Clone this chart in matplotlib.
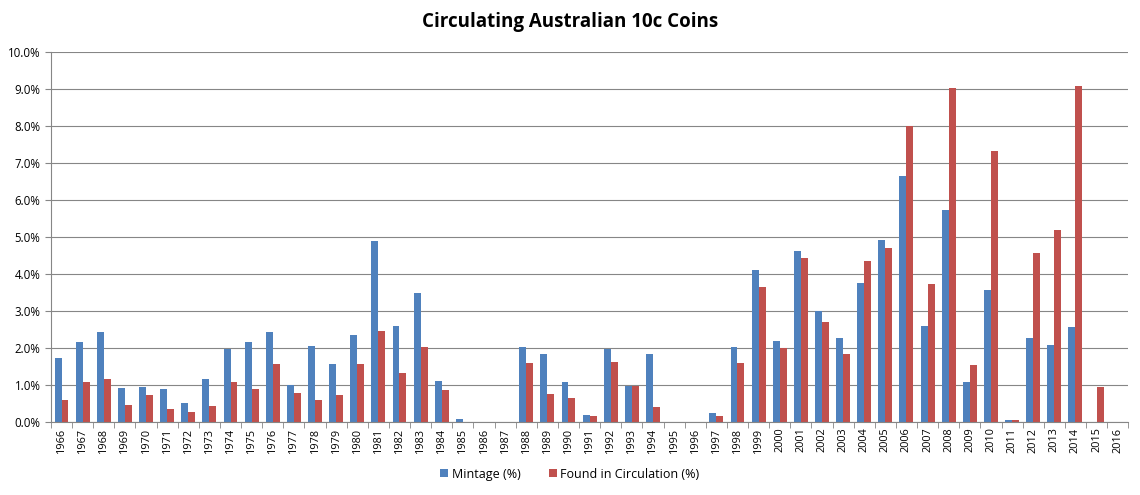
import matplotlib
matplotlib.use("Agg")
import matplotlib.pyplot as plt
import numpy as np
from matplotlib.ticker import FuncFormatter, MultipleLocator

plt.rcParams['font.family'] = ['Open Sans', 'DejaVu Sans']

years = [str(y) for y in range(1966, 2017)]

# values in percent
mintage = [1.73, 2.15, 2.42, 0.93, 0.95, 0.88, 0.52, 1.17, 1.98, 2.15,
           2.42, 1.00, 2.05, 1.57, 2.35, 4.90, 2.60, 3.48, 1.10, 0.08,
           0.0, 0.0, 2.03, 1.85, 1.07, 0.19, 1.97, 0.98, 1.85, 0.0,
           0.0, 0.25, 2.03, 4.10, 2.18, 4.62, 3.00, 2.26, 3.76, 4.93,
           6.64, 2.60, 5.74, 1.08, 3.58, 0.06, 2.28, 2.08, 2.58, 0.0,
           0.0]
found = [0.60, 1.08, 1.15, 0.47, 0.72, 0.35, 0.28, 0.42, 1.08, 0.90,
         1.57, 0.77, 0.60, 0.73, 1.57, 2.47, 1.33, 2.02, 0.87, 0.0,
         0.0, 0.0, 1.60, 0.76, 0.65, 0.17, 1.63, 0.98, 0.40, 0.0,
         0.0, 0.17, 1.60, 3.66, 2.00, 4.42, 2.70, 1.85, 4.36, 4.70,
         8.00, 3.72, 9.02, 1.53, 7.32, 0.06, 4.57, 5.18, 9.08, 0.95,
         0.0]

blue = '#4F81BD'
red = '#C0504D'

fig = plt.figure(figsize=(11.4, 4.95), dpi=100)
ax = fig.add_axes([0.0447, 0.1475, 0.945, 0.7475])

x = np.arange(len(years))
w = 0.33
ax.bar(x - w / 2, mintage, width=w, color=blue, label='Mintage (%)')
ax.bar(x + w / 2, found, width=w, color=red, label='Found in Circulation (%)')

ax.set_xlim(-0.5, len(years) - 0.5)
ax.set_ylim(0, 10)
ax.yaxis.set_major_locator(MultipleLocator(1))
ax.yaxis.set_major_formatter(FuncFormatter(lambda v, p: '%.1f%%' % v))
ax.grid(axis='y', color='#868686', linewidth=0.8)
ax.set_axisbelow(True)

ax.set_xticks(x)
ax.set_xticklabels(years, rotation=90, fontsize=7.8)
ax.set_xticks(np.arange(len(years) + 1) - 0.5, minor=True)
ax.tick_params(axis='x', which='major', length=0, pad=4)
ax.tick_params(axis='x', which='minor', length=4, color='#868686')
ax.tick_params(axis='y', labelsize=8.3, length=4, color='#868686')

for side in ['top', 'right']:
    ax.spines[side].set_visible(False)
ax.spines['left'].set_color('#868686')
ax.spines['bottom'].set_color('#868686')

fig.suptitle('Circulating Australian 10c Coins', fontsize=13.5,
             fontweight='bold', y=0.975)

leg = fig.legend(loc='center', bbox_to_anchor=(0.5, 0.042), ncol=2,
                 frameon=False, fontsize=9, handlelength=0.6,
                 handleheight=0.6, handletextpad=0.3, columnspacing=2.3)

fig.savefig('out.png', dpi=100)
